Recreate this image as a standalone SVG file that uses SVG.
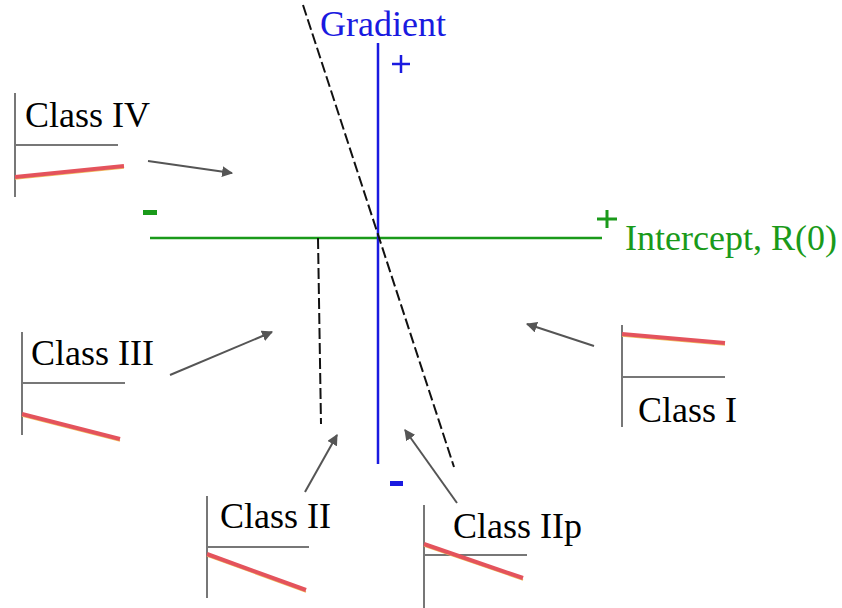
<svg xmlns="http://www.w3.org/2000/svg" width="842" height="608" viewBox="0 0 842 608">
<style>
.lbl{font-family:"Liberation Serif",serif;font-size:36px;fill:#000}
.ax{stroke:#777;stroke-width:2;fill:none}
.red{stroke:#e4535c;stroke-width:4;fill:none}
.yel{stroke:#f0c060;stroke-width:1.5;fill:none}
.arr{stroke:#555;stroke-width:2;fill:none;marker-end:url(#ah)}
.dash{stroke:#111;stroke-width:2;stroke-dasharray:11 4;fill:none}
</style>
<defs>
<marker id="ah" viewBox="0 0 10 10" refX="9" refY="5" markerWidth="5.5" markerHeight="5.5" orient="auto" markerUnits="strokeWidth">
<path d="M0,0 L10,5 L0,10 z" fill="#555"/>
</marker>
</defs>
<rect width="842" height="608" fill="#fff"/>
<g id="axes">
<line x1="150" y1="238" x2="602" y2="238" stroke="#1a9a1a" stroke-width="2.5"/>
<line x1="378" y1="43" x2="378" y2="464" stroke="#1a1ae0" stroke-width="2.5"/>
<text x="320" y="36" font-family="Liberation Serif, serif" font-size="36" fill="#1a1ae0">Gradient</text>
<path d="M392,64 H410 M401,55 V73" stroke="#1a1ae0" stroke-width="2.5"/>
<rect x="390" y="481" width="13" height="5" fill="#1a1ae0"/>
<rect x="143" y="210" width="14" height="5" fill="#1a9a1a"/>
<path d="M597,219 H617 M607,210 V228" stroke="#1a9a1a" stroke-width="3"/>
<text x="625" y="250" font-family="Liberation Serif, serif" font-size="36" fill="#1a9a1a">Intercept, R(0)</text>
</g>
<g id="connectors">
<line class="dash" x1="303" y1="5" x2="454" y2="467"/>
<line class="dash" x1="318" y1="238" x2="321" y2="424"/>
<line class="arr" x1="148" y1="161" x2="232" y2="173"/>
<line class="arr" x1="170" y1="375" x2="272" y2="332"/>
<line class="arr" x1="594" y1="346" x2="527" y2="324"/>
<line class="arr" x1="305" y1="492" x2="337" y2="435"/>
<line class="arr" x1="457" y1="503" x2="405" y2="430"/>
</g>
<g id="class4">
<line class="ax" x1="15" y1="93" x2="15" y2="197"/>
<line class="ax" x1="15" y1="145" x2="118" y2="145"/>
<line class="yel" x1="15" y1="179" x2="124" y2="168"/>
<line class="red" x1="15" y1="177" x2="124" y2="166"/>
<text class="lbl" x="25" y="127">Class IV</text>
</g>
<g id="class3">
<line class="ax" x1="22" y1="332" x2="22" y2="435"/>
<line class="ax" x1="22" y1="383" x2="125" y2="383"/>
<line class="yel" x1="22" y1="416" x2="120" y2="441"/>
<line class="red" x1="22" y1="414" x2="120" y2="439"/>
<text class="lbl" x="31" y="365">Class III</text>
</g>
<g id="class1">
<line class="ax" x1="622" y1="325" x2="622" y2="427"/>
<line class="ax" x1="622" y1="377" x2="725" y2="377"/>
<line class="yel" x1="622" y1="336" x2="725" y2="345"/>
<line class="red" x1="622" y1="334" x2="725" y2="343"/>
<text class="lbl" x="638" y="422">Class I</text>
</g>
<g id="class2">
<line class="ax" x1="207" y1="496" x2="207" y2="598"/>
<line class="ax" x1="207" y1="547" x2="309" y2="547"/>
<line class="yel" x1="207" y1="556" x2="306" y2="592"/>
<line class="red" x1="207" y1="554" x2="306" y2="590"/>
<text class="lbl" x="220" y="528">Class II</text>
</g>
<g id="class2p">
<line class="ax" x1="424" y1="505" x2="424" y2="608"/>
<line class="ax" x1="424" y1="555" x2="527" y2="555"/>
<line class="yel" x1="424" y1="546" x2="523" y2="580"/>
<line class="red" x1="424" y1="544" x2="523" y2="578"/>
<text class="lbl" x="453" y="538">Class IIp</text>
</g>
</svg>
